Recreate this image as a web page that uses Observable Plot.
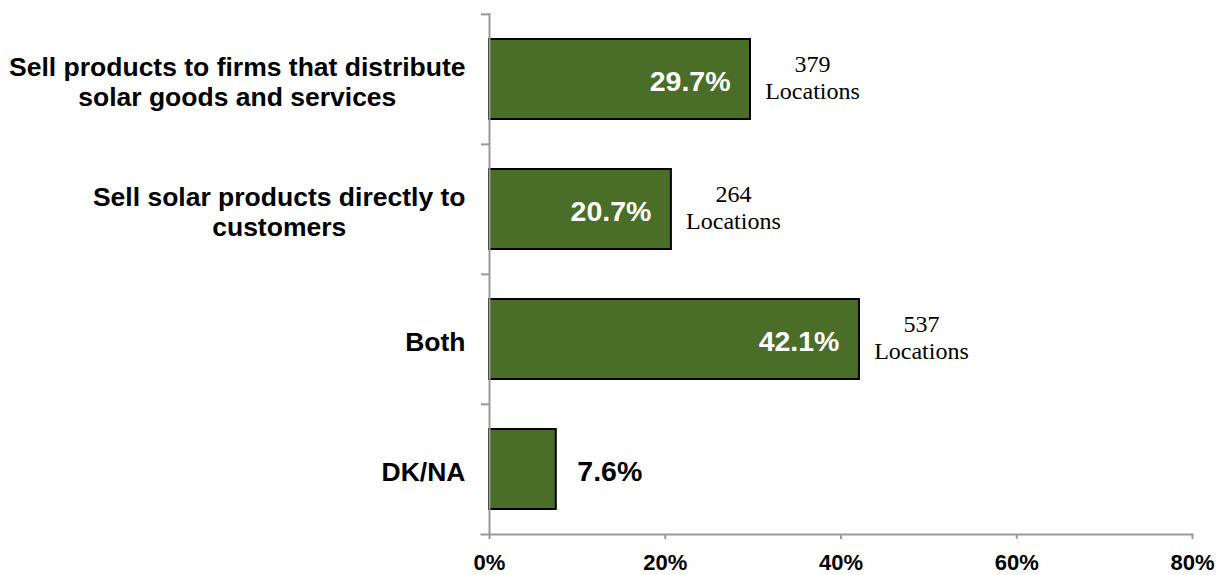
<!DOCTYPE html>
<html>
<head>
<meta charset="utf-8">
<script src="https://cdn.jsdelivr.net/npm/d3@7"></script>
<script src="https://cdn.jsdelivr.net/npm/@observablehq/plot@0.6"></script>
<style>
  html, body { margin: 0; padding: 0; background: #fff; }
</style>
</head>
<body>
<div id="chart"></div>
<script>
const categories = [
  "Sell products to firms that distribute solar goods and services",
  "Sell solar products directly to customers",
  "Both",
  "DK/NA"
];
const categoryLabels = [
  "Sell products to firms that distribute\nsolar goods and services",
  "Sell solar products directly to\ncustomers",
  "Both",
  "DK/NA"
];
const shares = [0.297, 0.207, 0.421, 0.076];
const locations = [379, 264, 537, null];
const xTicks = [0, 0.2, 0.4, 0.6, 0.8];

const data = categories.map((c, i) => ({
  category: c,
  label: categoryLabels[i],
  share: shares[i],
  locations: locations[i]
}));
const labelOf = new Map(data.map(d => [d.category, d.label]));
const pct = d3.format(".1%");

const W = 1225, H = 575, mT = 13, mB = 41, mL = 489, mR = 33;
const step = (H - mT - mB) / categories.length;

const sans = "'Liberation Sans', Arial, Helvetica, sans-serif";
const serif = "'Liberation Serif', 'Times New Roman', serif";

const chart = Plot.plot({
  width: W,
  height: H,
  marginTop: mT,
  marginBottom: mB,
  marginLeft: mL,
  marginRight: mR,
  style: { fontFamily: sans, overflow: "visible", background: "#fff" },
  x: { domain: [0, 0.8], label: null },
  y: { domain: categories, paddingInner: 0.386, paddingOuter: 0.193, label: null },
  marks: [
    Plot.barX(data, {
      x: "share", y: "category",
      fill: "#4a6e28", stroke: "#000", strokeWidth: 2
    }),
    // inside value labels
    Plot.text(data.filter(d => d.share > 0.1), {
      x: "share", y: "category", text: d => pct(d.share),
      textAnchor: "end", dx: -20, dy: 2,
      fill: "#fff", fontWeight: "bold", fontSize: 28.5, fontFamily: sans
    }),
    // outside value label
    Plot.text(data.filter(d => d.share <= 0.1), {
      x: "share", y: "category", text: d => pct(d.share),
      textAnchor: "start", dx: 21, dy: 2,
      fill: "#000", fontWeight: "bold", fontSize: 28.5, fontFamily: sans
    }),
    // location counts
    Plot.text(data.filter(d => d.locations != null), {
      x: "share", y: "category", text: d => `${d.locations}\nLocations`,
      textAnchor: "middle", dx: 62, dy: -3, lineHeight: 1.13,
      fill: "#000", fontSize: 24, fontFamily: serif
    }),
    // y axis band-boundary ticks
    Plot.axisY({
      tickSize: 8, tickFormat: () => "", dy: -step / 2,
      stroke: "#999", strokeWidth: 2
    }),
    // y axis labels
    Plot.axisY({
      tickSize: 0, tickPadding: 24, dy: 2,
      tickFormat: d => labelOf.get(d),
      fontSize: 26.5, fontWeight: "bold", lineHeight: 1.13,
      fill: "#000", fontFamily: sans
    }),
    // x axis
    Plot.axisX({
      ticks: xTicks, tickSize: 5, tickPadding: 15,
      tickFormat: d3.format(".0%"),
      fontSize: 22, fontWeight: "bold", fill: "#000",
      stroke: "#999", strokeWidth: 2, fontFamily: sans
    }),
    Plot.frame({ anchor: "bottom", stroke: "#999", strokeWidth: 2, insetLeft: -8 }),
    Plot.ruleX([0], { stroke: "#999", strokeWidth: 2 })
  ]
});

document.getElementById("chart").appendChild(chart);

// center multi-line y tick labels as a block (like the original)
chart.querySelectorAll('g[aria-label="y-axis tick label"] text').forEach(t => {
  const spans = t.querySelectorAll("tspan");
  if (spans.length < 2) return;
  let w = 0;
  spans.forEach(s => { w = Math.max(w, s.getComputedTextLength()); });
  t.setAttribute("text-anchor", "middle");
  spans.forEach(s => {
    const x0 = parseFloat(s.getAttribute("x") || "0");
    s.setAttribute("x", x0 - w / 2);
  });
});
</script>
</body>
</html>
